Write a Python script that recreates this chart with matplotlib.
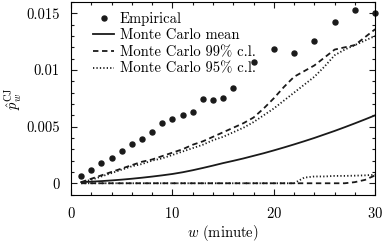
import matplotlib
matplotlib.use("Agg")
import matplotlib.pyplot as plt
from matplotlib.ticker import MultipleLocator

# data
w_emp = [1, 2, 3, 4, 5, 6, 7, 8, 9, 10, 11, 12, 13, 14, 15, 16, 18, 20, 22, 24, 26, 28, 30]
p_emp = [0.00064, 0.00115, 0.00179, 0.0022, 0.00285, 0.00344, 0.0039, 0.00455, 0.00534, 0.00567,
         0.00602, 0.00629, 0.0074, 0.00735, 0.0075, 0.0084, 0.01067, 0.01185, 0.01152, 0.01255,
         0.0142, 0.01529, 0.0150]

w_mc = list(range(1, 31))
mc_mean = [0.00010, 0.00014, 0.00019, 0.00025, 0.00032, 0.00040, 0.00049, 0.00059, 0.00070, 0.00082,
           0.00097, 0.00115, 0.00135, 0.00156, 0.00178, 0.00198, 0.00219, 0.00242, 0.00265, 0.00290,
           0.00316, 0.00343, 0.00371, 0.00400, 0.00431, 0.00462, 0.00495, 0.00529, 0.00564, 0.00600]
mc99_hi = [0.0001, 0.0004, 0.0007, 0.0010, 0.0013, 0.0016, 0.0019, 0.0021, 0.0024, 0.0027,
           0.0030, 0.0034, 0.0037, 0.0041, 0.0045, 0.0049, 0.0053, 0.0058, 0.0066, 0.0075,
           0.0085, 0.0094, 0.0099, 0.0104, 0.0111, 0.0118, 0.0120, 0.0122, 0.0129, 0.0136]
mc99_lo = [0.0] * 27 + [0.0001, 0.0003, 0.0007]
mc95_hi = [0.0001, 0.0003, 0.0006, 0.0009, 0.0012, 0.0015, 0.0017, 0.0020, 0.0022, 0.0025,
           0.0028, 0.0031, 0.0034, 0.0038, 0.0041, 0.0045, 0.0049, 0.0054, 0.0060, 0.0066,
           0.0073, 0.0080, 0.0087, 0.0094, 0.0103, 0.0113, 0.0118, 0.0122, 0.0126, 0.0130]
mc95_lo = [0.0] * 22 + [0.0005, 0.0006, 0.0006, 0.00065, 0.00065, 0.00067, 0.0007, 0.00075]

plt.rcParams['font.family'] = 'cmr10'
plt.rcParams['mathtext.fontset'] = 'cm'
plt.rcParams['axes.formatter.use_mathtext'] = True
plt.rcParams['font.size'] = 10.5

fig = plt.figure(figsize=(3.86, 2.44), dpi=100)
ax = fig.add_axes([0.184, 0.2025, 0.788, 0.7893])

col = '#1a1a1a'
ax.plot(w_emp, p_emp, 'o', color=col, ms=3.6, clip_on=False, label='Empirical')
ax.plot(w_mc, mc_mean, '-', color=col, lw=1.3, label='Monte Carlo mean')
ax.plot(w_mc, mc99_hi, '--', color=col, lw=1.3, dashes=(3, 2), label='Monte Carlo 99% c.l.')
ax.plot(w_mc, mc99_lo, '--', color=col, lw=1.3, dashes=(3, 2))
ax.plot(w_mc, mc95_hi, ':', color=col, lw=1.3, dashes=(0.7, 1.2), label='Monte Carlo 95% c.l.')
ax.plot(w_mc, mc95_lo, ':', color=col, lw=1.3, dashes=(0.7, 1.2))

ax.set_xlim(0, 30)
ax.set_ylim(-0.001, 0.016)
ax.set_xticks([0, 10, 20, 30])
ax.set_yticks([0, 0.005, 0.01, 0.015])
ax.set_yticklabels(['0', '0.005', '0.01', '0.015'])
ax.xaxis.set_minor_locator(MultipleLocator(2))
ax.yaxis.set_minor_locator(MultipleLocator(0.001))
ax.tick_params(which='both', direction='in', top=True, right=True, color=col)
ax.tick_params(which='major', length=4, width=0.8, pad=8)
ax.tick_params(which='minor', length=2.5, width=0.8)
for s in ax.spines.values():
    s.set_linewidth(0.8)

ax.set_xlabel(r'$w$ (minute)', labelpad=2)
ax.set_ylabel(r'$\hat{p}_w^{\mathrm{CJ}}$', labelpad=2)

ax.legend(loc='upper left', bbox_to_anchor=(0.045, 0.995), frameon=False,
          handlelength=1.4, handletextpad=0.4, labelspacing=0.2, borderaxespad=0.2)

fig.savefig('out.png', dpi=100)
